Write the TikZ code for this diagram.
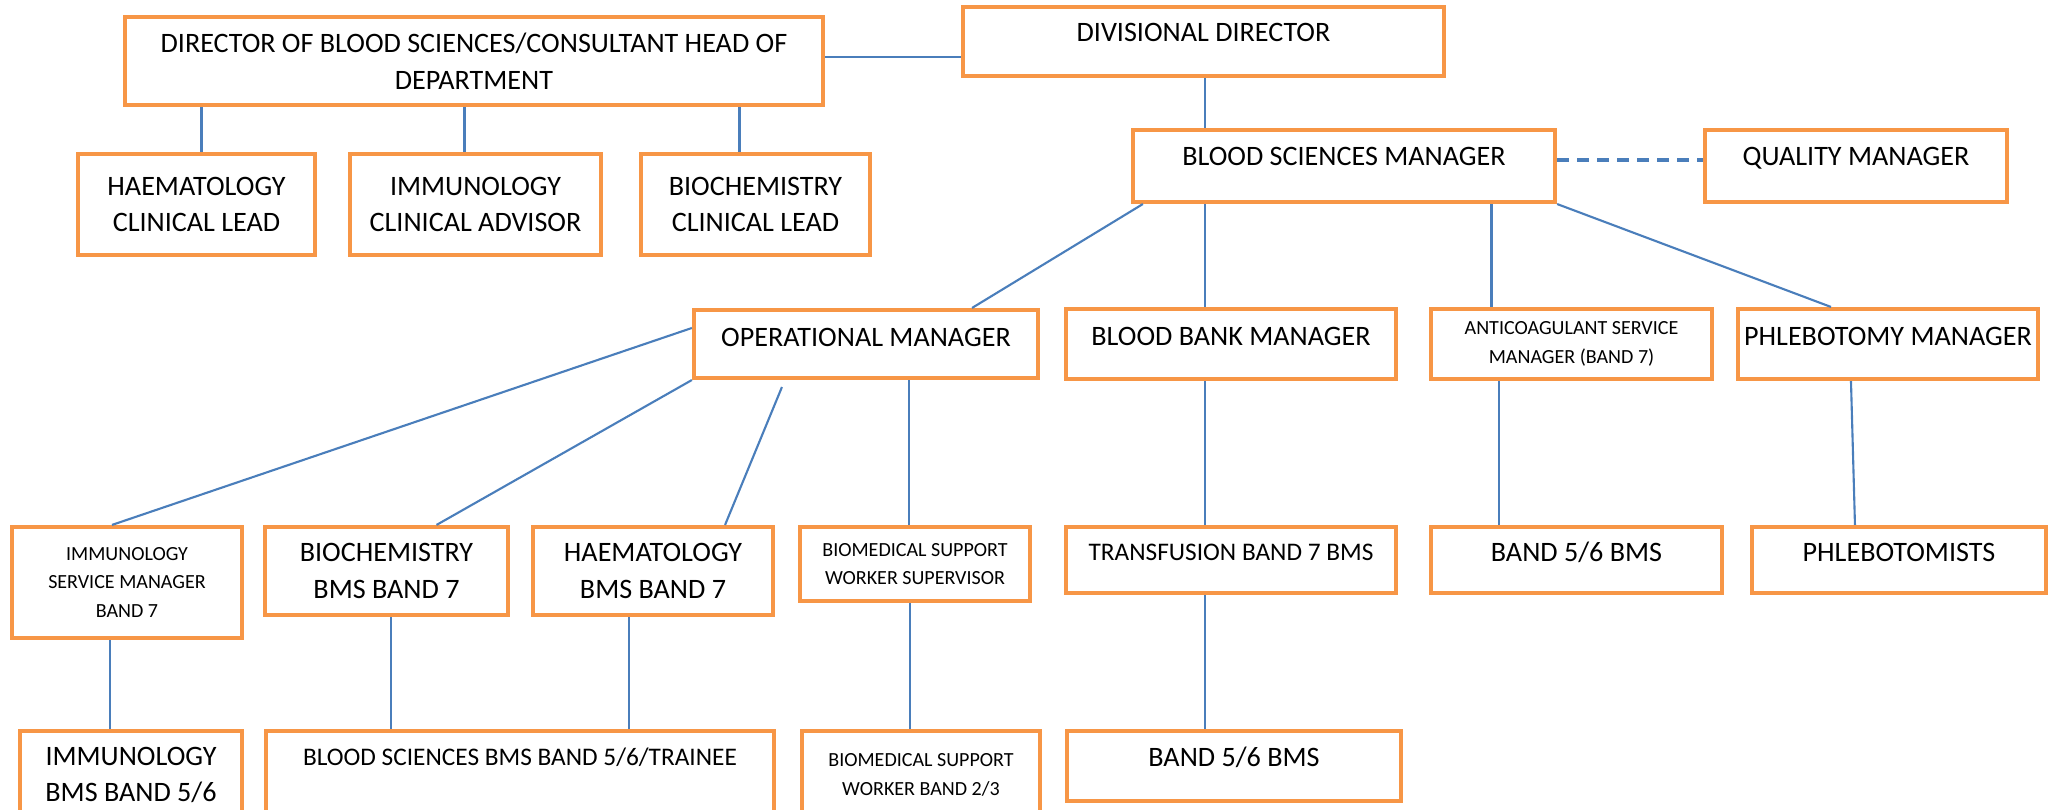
\documentclass[tikz,border=0pt]{standalone}
\usepackage{fontspec}
\setmainfont{Carlito}
\usepackage{tikz}
\definecolor{boxorange}{HTML}{F79646}
\definecolor{lineblue}{HTML}{4A7EBB}
\newcommand{\TxtL}{\fontsize{8}{10.5}\selectfont}
\newcommand{\TxtM}{\fontsize{7.2}{10}\selectfont}
\newcommand{\TxtS}{\fontsize{5.7}{8.2}\selectfont}

\begin{document}
\begin{tikzpicture}[x=0.01cm,y=-0.01cm]
      \tikzstyle{box}=[draw=boxorange,line width=1.15pt,rectangle,align=center,
                       inner sep=0pt,fill=white,font=\TxtL]
      \tikzstyle{lift}=[text height=0.18cm,text depth=0.14cm]
      \tikzstyle{link}=[draw=lineblue,line width=0.6pt]
      \useasboundingbox (0,0) rectangle (2056,810);
      \clip (0,0) rectangle (2056,810);
      % top left group
      \node[box,minimum width=6.98cm,minimum height=0.88cm] (director) at (474,61)
          {DIRECTOR OF BLOOD SCIENCES/CONSULTANT HEAD OF\\DEPARTMENT};
      \node[box,minimum width=2.37cm,minimum height=1.01cm] (haemlead) at (196.5,204.5)
          {HAEMATOLOGY\\CLINICAL LEAD};
      \node[box,minimum width=2.51cm,minimum height=1.01cm] (immadv) at (475.5,204.5)
          {IMMUNOLOGY\\CLINICAL ADVISOR};
      \node[box,minimum width=2.29cm,minimum height=1.01cm] (biolead) at (755.5,204.5)
          {BIOCHEMISTRY\\CLINICAL LEAD};
      % management
      \node[box,lift,text depth=0.17cm,minimum width=4.81cm,minimum height=0.69cm] (divdir) at (1203.5,41.5)
          {DIVISIONAL DIRECTOR};
      \node[box,lift,text depth=0.18cm,minimum width=4.22cm,minimum height=0.72cm] (bsm) at (1344,166)
          {BLOOD SCIENCES MANAGER};
      \node[box,lift,text depth=0.18cm,minimum width=3.02cm,minimum height=0.72cm] (quality) at (1856,166)
          {QUALITY MANAGER};
      \node[box,lift,text depth=0.12cm,minimum width=3.44cm,minimum height=0.68cm] (opman) at (866,344)
          {OPERATIONAL MANAGER};
      \node[box,lift,minimum width=3.29cm,minimum height=0.70cm] (bbman) at (1231,344)
          {BLOOD BANK MANAGER};
      \node[box,font=\TxtS,minimum width=2.81cm,minimum height=0.70cm] (anticoag) at (1571.5,344)
          {ANTICOAGULANT SERVICE\\MANAGER (BAND 7)};
      \node[box,lift,minimum width=3.00cm,minimum height=0.70cm] (phleb) at (1888,344)
          {PHLEBOTOMY MANAGER};
      % band 7 row
      \node[box,font=\TxtS,minimum width=2.30cm,minimum height=1.11cm] (immsvc) at (127,582.5)
          {IMMUNOLOGY\\SERVICE MANAGER\\BAND 7};
      \node[box,minimum width=2.43cm,minimum height=0.88cm] (biobms) at (386.5,571)
          {BIOCHEMISTRY\\BMS BAND 7};
      \node[box,minimum width=2.40cm,minimum height=0.88cm] (haembms) at (653,571)
          {HAEMATOLOGY\\BMS BAND 7};
      \node[box,font=\TxtS,minimum width=2.30cm,minimum height=0.74cm] (bswsup) at (915,564)
          {BIOMEDICAL SUPPORT\\WORKER SUPERVISOR};
      \node[box,lift,font=\TxtM,text height=0.16cm,minimum width=3.29cm,minimum height=0.66cm] (transf) at (1231,560)
          {TRANSFUSION BAND 7 BMS};
      \node[box,lift,minimum width=2.91cm,minimum height=0.66cm] (band56a) at (1576.5,560)
          {BAND 5/6 BMS};
      \node[box,lift,minimum width=2.94cm,minimum height=0.66cm] (phlebs) at (1899,560)
          {PHLEBOTOMISTS};
      % bottom row
      \node[box,minimum width=2.22cm,minimum height=0.88cm] (immbms) at (131,775)
          {IMMUNOLOGY\\BMS BAND 5/6};
      \node[box,lift,font=\TxtM,text height=0.165cm,text depth=0.36cm,minimum width=5.07cm,minimum height=0.88cm] (bsbms) at (520,775)
          {BLOOD SCIENCES BMS BAND 5/6/TRAINEE};
      \node[box,font=\TxtS,minimum width=2.38cm,minimum height=0.88cm] (bswband) at (921,775)
          {BIOMEDICAL SUPPORT\\WORKER BAND 2/3};
      \node[box,lift,text depth=0.16cm,minimum width=3.34cm,minimum height=0.70cm] (band56b) at (1234,766)
          {BAND 5/6 BMS};
      % connectors
      \draw[link] ([yshift=0.04cm]director.east) -- ([yshift=0.04cm]director.east -| divdir.west);
      \draw[link] ([xshift=0.05cm]haemlead.north) -- ([xshift=0.05cm]haemlead.north |- director.south);
      \draw[link] ([xshift=-0.11cm]immadv.north) -- ([xshift=-0.11cm]immadv.north |- director.south);
      \draw[link] ([xshift=-0.16cm]biolead.north) -- ([xshift=-0.16cm]biolead.north |- director.south);
      \draw[link] ([xshift=0.015cm]divdir.south) -- ([xshift=0.015cm]divdir.south |- bsm.north);
      \draw[link,dash pattern=on 0.12cm off 0.08cm,line width=0.9pt] ([yshift=0.06cm]bsm.east) -- ([yshift=0.06cm]quality.west);
      \draw[link] ([xshift=0.12cm]bsm.south west) -- ([xshift=1.06cm]opman.north);
      \draw[link] ([xshift=-0.26cm]bbman.north) -- ([xshift=-0.26cm]bbman.north |- bsm.south);
      \draw[link] ([xshift=-0.8cm]anticoag.north) -- ([xshift=-0.8cm]anticoag.north |- bsm.south);
      \draw[link] (bsm.south east) -- ([xshift=-0.57cm]phleb.north);
      \draw[link] ([yshift=0.16cm]opman.west) -- ([xshift=-0.15cm]immsvc.north);
      \draw[link] (opman.south west) -- ([xshift=0.5cm]biobms.north);
      \draw[link] ([xshift=-0.84cm,yshift=-0.07cm]opman.south) -- ([xshift=0.72cm]haembms.north);
      \draw[link] ([xshift=-0.06cm]bswsup.north) -- ([xshift=-0.06cm]bswsup.north |- opman.south);
      \draw[link] ([xshift=-0.26cm]transf.north) -- ([xshift=-0.26cm]transf.north |- bbman.south);
      \draw[link] ([xshift=-0.775cm]band56a.north) -- ([xshift=-0.775cm]band56a.north |- anticoag.south);
      \draw[link] ([xshift=-0.37cm]phleb.south) -- ([xshift=-0.44cm]phlebs.north);
      \draw[link] ([xshift=-0.17cm]immsvc.south) -- ([xshift=-0.17cm]immsvc.south |- immbms.north);
      \draw[link] (biobms.south -| 391,0) -- (bsbms.north -| 391,0);
      \draw[link] (haembms.south -| 629,0) -- (bsbms.north -| 629,0);
      \draw[link] ([xshift=-0.05cm]bswsup.south) -- ([xshift=-0.05cm]bswsup.south |- bswband.north);
      \draw[link] ([xshift=-0.26cm]transf.south) -- ([xshift=-0.26cm]transf.south |- band56b.north);
\end{tikzpicture}
\end{document}
